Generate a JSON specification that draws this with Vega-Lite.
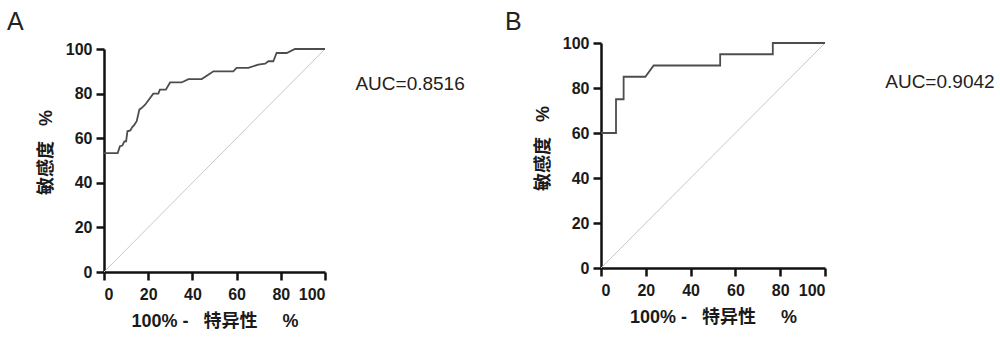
{
  "$schema": "https://vega.github.io/schema/vega-lite/v6.json",
  "background": "white",
  "padding": {"left": 7, "top": 10, "right": 0, "bottom": 0},
  "datasets": {
    "rocA": [
      {"i": 0, "fpr": 0, "sens": 53.3},
      {"i": 1, "fpr": 6.2, "sens": 53.3},
      {"i": 2, "fpr": 7.2, "sens": 56.4},
      {"i": 3, "fpr": 8.3, "sens": 56.7},
      {"i": 4, "fpr": 9.2, "sens": 58.6},
      {"i": 5, "fpr": 10.0, "sens": 58.6},
      {"i": 6, "fpr": 10.6, "sens": 63.1},
      {"i": 7, "fpr": 11.9, "sens": 63.5},
      {"i": 8, "fpr": 12.8, "sens": 65.0},
      {"i": 9, "fpr": 13.7, "sens": 66.0},
      {"i": 10, "fpr": 14.8, "sens": 67.6},
      {"i": 11, "fpr": 16.0, "sens": 72.8},
      {"i": 12, "fpr": 17.0, "sens": 73.5},
      {"i": 13, "fpr": 18.6, "sens": 75.0},
      {"i": 14, "fpr": 22.3, "sens": 80.0},
      {"i": 15, "fpr": 24.6, "sens": 80.0},
      {"i": 16, "fpr": 25.3, "sens": 81.8},
      {"i": 17, "fpr": 28.0, "sens": 81.8},
      {"i": 18, "fpr": 29.9, "sens": 85.0},
      {"i": 19, "fpr": 35.1, "sens": 85.0},
      {"i": 20, "fpr": 38.2, "sens": 86.5},
      {"i": 21, "fpr": 44.2, "sens": 86.5},
      {"i": 22, "fpr": 47.2, "sens": 88.5},
      {"i": 23, "fpr": 49.5, "sens": 90.0},
      {"i": 24, "fpr": 58.5, "sens": 90.0},
      {"i": 25, "fpr": 60.0, "sens": 91.5},
      {"i": 26, "fpr": 65.3, "sens": 91.5},
      {"i": 27, "fpr": 69.8, "sens": 93.0},
      {"i": 28, "fpr": 72.9, "sens": 93.4},
      {"i": 29, "fpr": 74.4, "sens": 94.5},
      {"i": 30, "fpr": 76.6, "sens": 94.5},
      {"i": 31, "fpr": 78.1, "sens": 98.2},
      {"i": 32, "fpr": 82.7, "sens": 98.2},
      {"i": 33, "fpr": 86.4, "sens": 100},
      {"i": 34, "fpr": 100, "sens": 100}
    ],
    "rocB": [
      {"i": 0, "fpr": 0, "sens": 60},
      {"i": 1, "fpr": 6.7, "sens": 60},
      {"i": 2, "fpr": 6.7, "sens": 75},
      {"i": 3, "fpr": 10.1, "sens": 75},
      {"i": 4, "fpr": 10.1, "sens": 85},
      {"i": 5, "fpr": 19.8, "sens": 85},
      {"i": 6, "fpr": 23.5, "sens": 90},
      {"i": 7, "fpr": 53.2, "sens": 90},
      {"i": 8, "fpr": 53.2, "sens": 95},
      {"i": 9, "fpr": 76.7, "sens": 95},
      {"i": 10, "fpr": 76.7, "sens": 100},
      {"i": 11, "fpr": 100, "sens": 100}
    ],
    "diag": [
      {"i": 0, "fpr": 0, "sens": 0},
      {"i": 1, "fpr": 100, "sens": 100}
    ],
    "aucA": [{"label": "AUC=0.8516"}],
    "aucB": [{"label": "AUC=0.9042"}],
    "none": []
  },
  "config": {
    "view": {"stroke": null},
    "axis": {
      "grid": false,
      "domainColor": "#111",
      "domainWidth": 2.5,
      "tickColor": "#111",
      "tickWidth": 2.5,
      "tickSize": 8,
      "labelFont": "Liberation Sans",
      "labelFontWeight": "bold",
      "labelFontSize": 16,
      "labelColor": "#1a1a1a",
      "labelPadding": 4,
      "titleFont": "Liberation Sans, Noto Sans CJK SC",
      "titleFontWeight": "bold",
      "titleFontSize": 18,
      "titleColor": "#1a1a1a"
    },
    "title": {
      "font": "Liberation Sans",
      "fontSize": 25,
      "fontWeight": "normal",
      "color": "#222",
      "anchor": "start",
      "frame": "group"
    }
  },
  "spacing": 40,
  "hconcat": [
    {
      "title": {"text": "A", "dx": -97, "offset": 6},
      "spacing": 0,
      "bounds": "flush",
      "vconcat": [
        {
          "width": 221,
          "height": 6,
          "data": {"name": "none"},
          "mark": {"type": "point", "opacity": 0},
          "encoding": {}
        },
        {
          "width": 221,
          "height": 223,
          "layer": [
            {
              "data": {"name": "diag"},
              "mark": {"type": "line", "color": "#c8c8c8", "strokeWidth": 1},
              "encoding": {
                "x": {"field": "fpr", "type": "quantitative"},
                "y": {"field": "sens", "type": "quantitative"},
                "order": {"field": "i"}
              }
            },
            {
              "data": {"name": "rocA"},
              "mark": {"type": "line", "color": "#4d4d4d", "strokeWidth": 1.8},
              "encoding": {
                "x": {"field": "fpr", "type": "quantitative", "scale": {"domain": [0, 100], "nice": false},
                      "axis": {"values": [0, 20, 40, 60, 80, 100], "title": "100% -\u00a0\u00a0\u00a0特异性\u00a0\u00a0\u00a0\u00a0\u00a0%", "titlePadding": 10, "labelPadding": 6}},
                "y": {"field": "sens", "type": "quantitative", "scale": {"domain": [0, 100], "nice": false},
                      "axis": {"values": [0, 20, 40, 60, 80, 100], "title": "敏感度\u00a0\u00a0\u00a0%", "titlePadding": 10, "titleY": 103}},
                "order": {"field": "i"}
              }
            },
            {
              "data": {"name": "aucA"},
              "mark": {"type": "text", "font": "Liberation Sans", "fontSize": 19, "color": "#222", "align": "center", "baseline": "middle"},
              "encoding": {
                "x": {"datum": 138.5, "type": "quantitative"},
                "y": {"datum": 84.4, "type": "quantitative"},
                "text": {"field": "label"}
              }
            }
          ]
        }
      ]
    },
    {
      "title": {"text": "B", "dx": -96, "offset": 0},
      "width": 224,
      "height": 225,
      "layer": [
        {
          "data": {"name": "diag"},
          "mark": {"type": "line", "color": "#c8c8c8", "strokeWidth": 1},
          "encoding": {
            "x": {"field": "fpr", "type": "quantitative"},
            "y": {"field": "sens", "type": "quantitative"},
            "order": {"field": "i"}
          }
        },
        {
          "data": {"name": "rocB"},
          "mark": {"type": "line", "color": "#4d4d4d", "strokeWidth": 1.8},
          "encoding": {
            "x": {"field": "fpr", "type": "quantitative", "scale": {"domain": [0, 100], "nice": false},
                  "axis": {"values": [0, 20, 40, 60, 80, 100], "title": "100% -\u00a0\u00a0\u00a0特异性\u00a0\u00a0\u00a0\u00a0\u00a0%", "titlePadding": 10, "labelPadding": 6}},
            "y": {"field": "sens", "type": "quantitative", "scale": {"domain": [0, 100], "nice": false},
                  "axis": {"values": [0, 20, 40, 60, 80, 100], "title": "敏感度\u00a0\u00a0\u00a0%", "titlePadding": 10, "titleY": 105}},
            "order": {"field": "i"}
          }
        },
        {
          "data": {"name": "aucB"},
          "mark": {"type": "text", "font": "Liberation Sans", "fontSize": 19, "color": "#222", "align": "center", "baseline": "middle"},
          "encoding": {
            "x": {"datum": 151.3, "type": "quantitative"},
            "y": {"datum": 82.8, "type": "quantitative"},
            "text": {"field": "label"}
          }
        }
      ]
    }
  ]
}
